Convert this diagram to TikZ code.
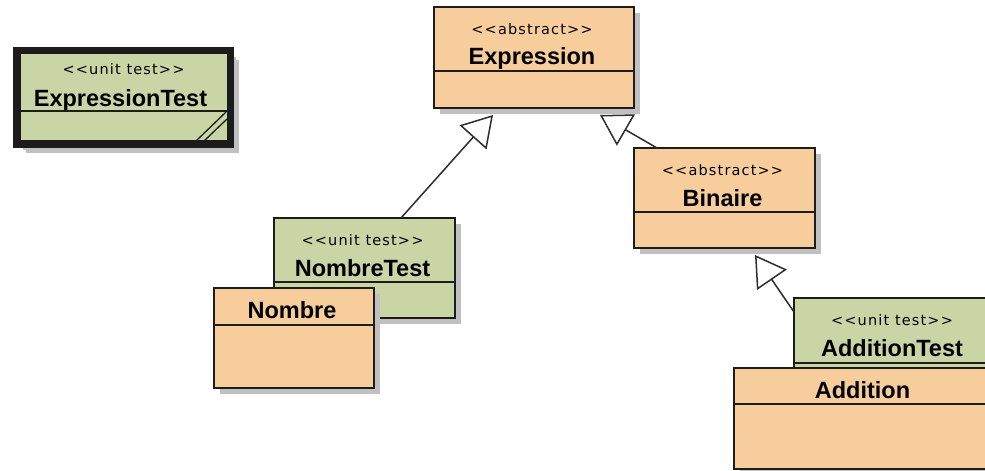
\documentclass[tikz,border=0pt]{standalone}
\usepackage{fontspec}
\newfontfamily\stfont[LetterSpace=8]{DejaVu Sans}
\newfontfamily\nmfont{Liberation Sans}
\usetikzlibrary{arrows.meta,shadows,calc}
\definecolor{clsorange}{RGB}{247,205,155}
\definecolor{clsgreen}{RGB}{201,213,165}
\definecolor{shadowgray}{RGB}{192,192,192}
\definecolor{boxline}{RGB}{28,28,28}
\definecolor{lineclr}{RGB}{45,45,45}
\begin{document}
\begin{tikzpicture}[x=1bp,y=-1bp,
  box/.style={draw=boxline, line width=2bp, inner sep=0pt, outer sep=0pt, anchor=north west,
    drop shadow={shadow xshift=6bp, shadow yshift=-6bp, fill=shadowgray, opacity=1}},
  orangebox/.style={box, fill=clsorange},
  greenbox/.style={box, fill=clsgreen},
  stereo/.style={anchor=base, inner sep=0pt, font=\stfont\fontsize{14.5bp}{17bp}\selectfont},
  cname/.style={anchor=base, inner sep=0pt, font=\nmfont\bfseries\fontsize{23.5bp}{27bp}\selectfont},
  divider/.style={draw=boxline, line width=2bp},
  hatch/.style={draw=boxline, line width=1.3bp},
  gen/.style={draw=lineclr, line width=1.5bp, -{Triangle[length=30bp,width=36bp,fill=white]}}
]
\useasboundingbox (0,0) rectangle (985,471);
\clip (0,0) rectangle (985,471);

% ExpressionTest (thick border)
\node[greenbox, line width=7.5bp, minimum width=213.5bp, minimum height=93.5bp,
  drop shadow={shadow xshift=9bp, shadow yshift=-9bp, fill=shadowgray, opacity=1}] (et) at (16.75,50.75) {};
\node[stereo] (ets) at ($(et.north)+(0,23.5)$) {<<unit test>>};
\node[cname] (etn) at ($(et.north)+(-3,55.5)$) {ExpressionTest};
\draw[divider] ($(et.north west)+(0,60.25)$) -- ($(et.north east)+(0,60.25)$);
\draw[hatch] ($(et.south east)+(-34.25,-3.25)$) -- ($(et.south east)+(-4.25,-32.25)$);
\draw[hatch] ($(et.south east)+(-26.25,-3.25)$) -- ($(et.south east)+(-3.25,-25.25)$);

% Expression
\node[orangebox, minimum width=200bp, minimum height=101bp] (ex) at (434,7) {};
\node[stereo] (exs) at ($(ex.north)+(-2,27.5)$) {<<abstract>>};
\node[cname] (exn) at ($(ex.north)+(-2,58)$) {Expression};
\draw[divider] ($(ex.north west)+(0,64)$) -- ($(ex.north east)+(0,64)$);

% Binaire
\node[orangebox, minimum width=181bp, minimum height=100bp] (bi) at (634,148) {};
\node[stereo] (bis) at ($(bi.north)+(-2,27.5)$) {<<abstract>>};
\node[cname] (bin) at ($(bi.north)+(-2,59)$) {Binaire};
\draw[divider] ($(bi.north west)+(0,64)$) -- ($(bi.north east)+(0,64)$);

% NombreTest
\node[greenbox, minimum width=181bp, minimum height=100bp] (nt) at (274,218) {};
\node[stereo] (nts) at ($(nt.north)+(-2,27.5)$) {<<unit test>>};
\node[cname] (ntn) at ($(nt.north)+(-2,59)$) {NombreTest};
\draw[divider] ($(nt.north west)+(0,64)$) -- ($(nt.north east)+(0,64)$);

% Nombre
\node[orangebox, minimum width=160bp, minimum height=100bp] (nb) at (214,288) {};
\node[cname] (nbn) at ($(nb.north)+(-2,31)$) {Nombre};
\draw[divider] ($(nb.north west)+(0,37)$) -- ($(nb.north east)+(0,37)$);

% AdditionTest
\node[greenbox, minimum width=200bp, minimum height=100bp] (at) at (794,298) {};
\node[stereo] (ats) at ($(at.north west)+(98,27.5)$) {<<unit test>>};
\node[cname] (atn) at ($(at.north west)+(98,59)$) {AdditionTest};
\draw[divider] ($(at.north west)+(0,65)$) -- ($(at.north east)+(0,65)$);

% Addition
\node[orangebox, minimum width=260bp, minimum height=101bp] (ad) at (734,368) {};
\node[cname] (adn) at ($(ad.north west)+(128.5,30)$) {Addition};
\draw[divider] ($(ad.north west)+(0,36)$) -- ($(ad.north east)+(0,36)$);

% generalization connectors
\coordinate (tipA) at ($(ex.south west)+(59,7)$);
\coordinate (tipB) at ($(ex.south west)+(166,7)$);
\coordinate (tipC) at ($(bi.south west)+(121,7)$);
\draw[gen] ($(nt.north west)+(127,0)$) -- (tipA);
\draw[gen] ($(bi.north west)+(23,0)$) -- (tipB);
\draw[gen] ($(at.north west)+(0,14)$) -- (tipC);
\end{tikzpicture}
\end{document}
